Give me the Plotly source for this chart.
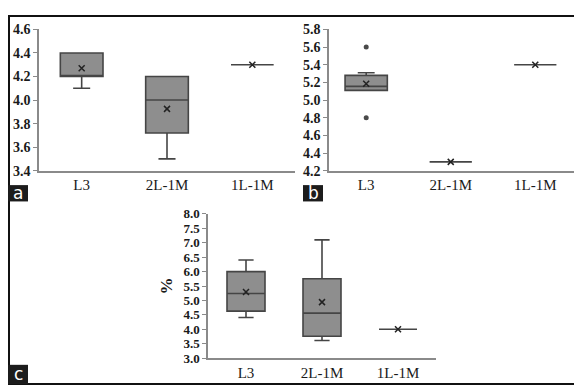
import plotly.graph_objects as go

categories = ["L3", "2L-1M", "1L-1M"]

# Panel a
a_q1 = [4.2, 3.72, 4.3]
a_median = [4.2, 4.0, 4.3]
a_q3 = [4.4, 4.2, 4.3]
a_lower = [4.1, 3.5, 4.3]
a_upper = [4.4, 4.2, 4.3]
a_mean = [4.27, 3.925, 4.3]
a_ticks = [3.4, 3.6, 3.8, 4.0, 4.2, 4.4, 4.6]

# Panel b
b_q1 = [5.11, 4.3, 5.4]
b_median = [5.155, 4.3, 5.4]
b_q3 = [5.28, 4.3, 5.4]
b_lower = [5.11, 4.3, 5.4]
b_upper = [5.31, 4.3, 5.4]
b_mean = [5.185, 4.3, 5.4]
b_outliers = [5.6, 4.8]  # belong to L3
b_ticks = [4.2, 4.4, 4.6, 4.8, 5.0, 5.2, 5.4, 5.6, 5.8]

# Panel c
c_q1 = [4.63, 3.76, 4.0]
c_median = [5.24, 4.56, 4.0]
c_q3 = [6.0, 5.75, 4.0]
c_lower = [4.41, 3.61, 4.0]
c_upper = [6.4, 7.1, 4.0]
c_mean = [5.29, 4.94, 4.0]
c_ticks = [3.0, 3.5, 4.0, 4.5, 5.0, 5.5, 6.0, 6.5, 7.0, 7.5, 8.0]

W, H = 582, 385
xpos = list(range(len(categories)))

BOX_FILL = "#8e8e8e"
BOX_LINE = "#454545"
AXIS = "#8a8a8a"
TXT = "#1a1a1a"
SERIF = "Liberation Serif"

fig = go.Figure()

panels = [
    ("x", "y", a_q1, a_median, a_q3, a_lower, a_upper, a_mean),
    ("x2", "y2", b_q1, b_median, b_q3, b_lower, b_upper, b_mean),
    ("x3", "y3", c_q1, c_median, c_q3, c_lower, c_upper, c_mean),
]
for xa, ya, q1, med, q3, lo, up, mn in panels:
    fig.add_trace(go.Box(
        x=xpos, q1=q1, median=med, q3=q3, lowerfence=lo, upperfence=up,
        xaxis=xa, yaxis=ya, width=0.5, whiskerwidth=0.4,
        fillcolor=BOX_FILL, line=dict(color=BOX_LINE, width=1.6),
        boxpoints=False, showlegend=False, hoverinfo="skip",
    ))
    fig.add_trace(go.Scatter(
        x=xpos, y=mn, xaxis=xa, yaxis=ya, mode="markers",
        marker=dict(symbol="x-thin", size=6, line=dict(width=1.5, color="#222222")),
        showlegend=False, hoverinfo="skip",
    ))

fig.add_trace(go.Scatter(
    x=[0] * len(b_outliers), y=b_outliers, xaxis="x2", yaxis="y2", mode="markers",
    marker=dict(symbol="circle", size=5, color="#4a4a4a"),
    showlegend=False, hoverinfo="skip",
))

def px_x(p):
    return p / W

def px_y(p):
    return 1 - p / H

def xaxis_cfg(d0, d1, anchor, rng, size):
    return dict(domain=[px_x(d0), px_x(d1)], anchor=anchor, range=rng,
                tickvals=xpos, ticktext=categories, showline=True, linecolor=AXIS,
                linewidth=1.5, showgrid=False, zeroline=False, ticks="",
                tickfont=dict(family=SERIF, size=size, color=TXT), fixedrange=True)

def yaxis_cfg(d0, d1, anchor, rng, ticks, size, fmt):
    return dict(domain=[px_y(d1), px_y(d0)], anchor=anchor, range=rng,
                tickvals=ticks, ticktext=[fmt.format(t) for t in ticks],
                showline=True, linecolor=AXIS, linewidth=1.5, showgrid=False,
                zeroline=False, ticks="outside", ticklen=4, tickcolor=AXIS,
                tickfont=dict(family=SERIF, size=size, color=TXT, weight="bold"),
                fixedrange=True)

fig.update_layout(
    width=W, height=H, margin=dict(l=0, r=0, t=0, b=0),
    paper_bgcolor="white", plot_bgcolor="white",
    xaxis=xaxis_cfg(31, 287, "y", [-0.5, 2.5], 15),
    yaxis=yaxis_cfg(15, 162, "x", [3.4, 4.6], a_ticks, 14, "{:.1f}"),
    xaxis2=xaxis_cfg(321, 578, "y2", [-0.44, 2.6], 15),
    yaxis2=yaxis_cfg(15, 162, "x2", [4.2, 5.8], b_ticks, 14, "{:.1f}"),
    xaxis3=xaxis_cfg(200, 428, "y3", [-0.5, 2.5], 15),
    yaxis3=dict(yaxis_cfg(207, 357, "x3", [3.0, 8.0], c_ticks, 13, "{:.1f}"),
                title=dict(text="%", font=dict(family=SERIF, size=17, color=TXT, weight="bold"),
                           standoff=6)),
    hovermode=False,
)

shapes = [dict(type="rect", xref="paper", yref="paper",
               x0=px_x(1), x1=px_x(W - 1), y0=px_y(H - 1), y1=px_y(1),
               line=dict(color="#111111", width=2), fillcolor="rgba(0,0,0,0)")]
annotations = []
for lab, x0, y0, x1, y1 in [("a", 0, 177, 20, 194), ("b", 295, 177, 315, 194), ("c", 0, 364, 20, 384)]:
    shapes.append(dict(type="rect", xref="paper", yref="paper",
                       x0=px_x(x0), x1=px_x(x1), y0=px_y(y1), y1=px_y(y0),
                       line=dict(width=0), fillcolor="#1c1c1c"))
    annotations.append(dict(text=lab, xref="paper", yref="paper",
                            x=px_x((x0 + x1) / 2), y=px_y((y0 + y1) / 2),
                            xanchor="center", yanchor="middle", showarrow=False,
                            font=dict(family="DejaVu Sans", size=17, color="white")))
fig.update_layout(shapes=shapes, annotations=annotations)

fig.write_html("out.html")
